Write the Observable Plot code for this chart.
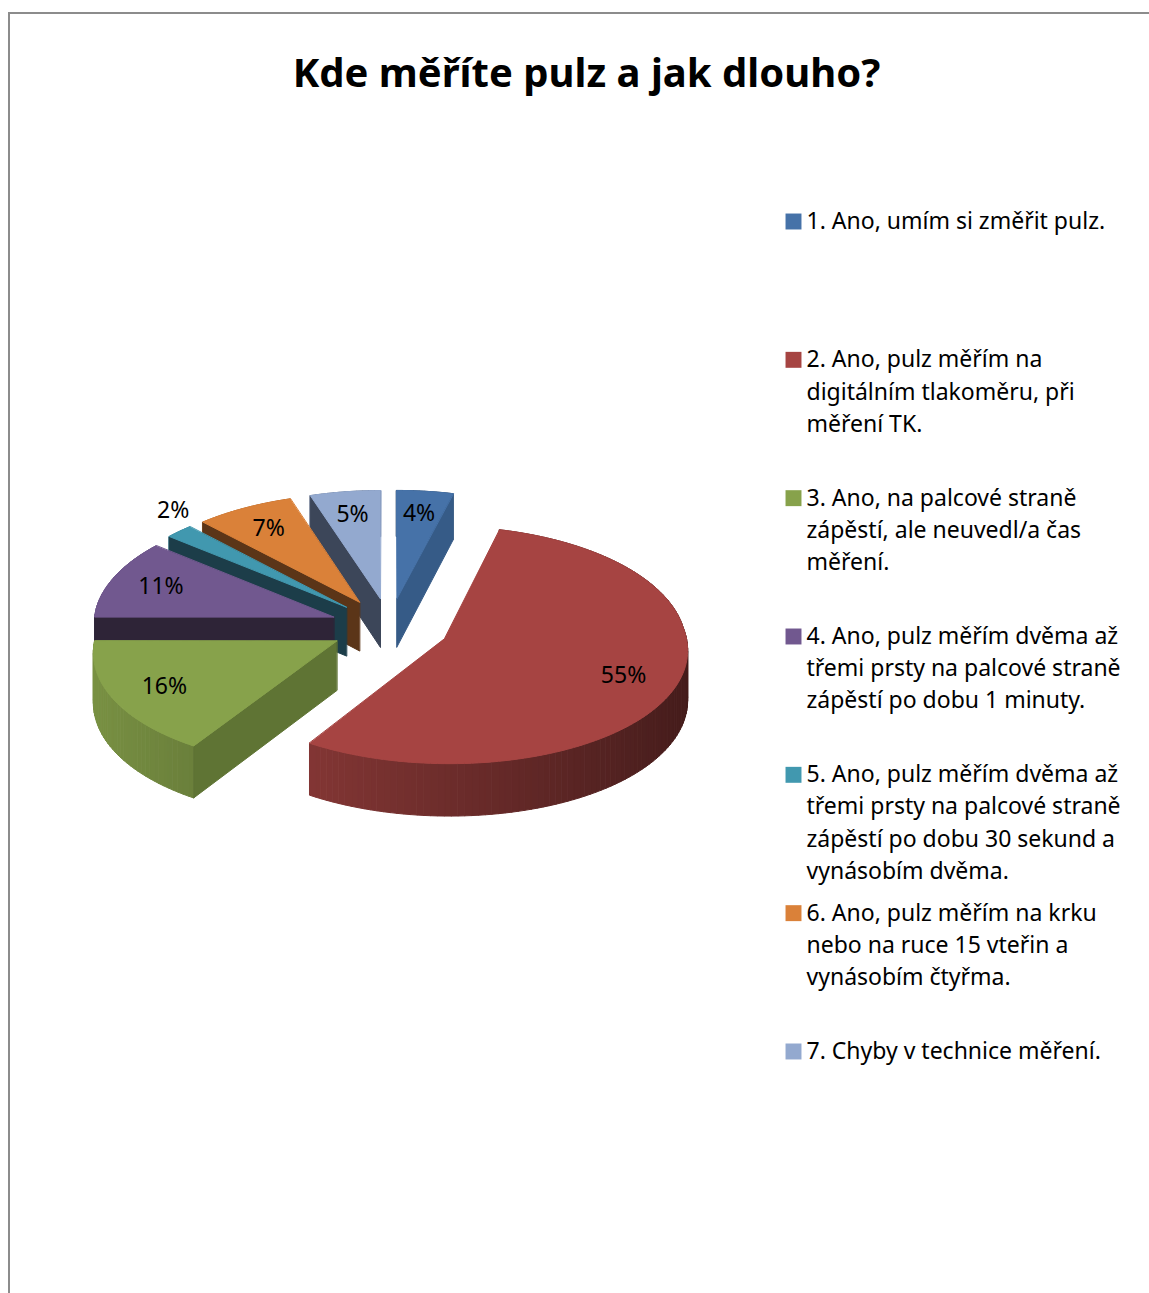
<!DOCTYPE html>
<html><head><meta charset="utf-8">
<script src="https://cdn.jsdelivr.net/npm/d3@7"></script>
<script src="https://cdn.jsdelivr.net/npm/@observablehq/plot@0.6"></script>
<style>
html,body{margin:0;padding:0;background:#fff;}
#page{position:relative;width:1149px;height:1293px;overflow:hidden;}
#frame{position:absolute;left:8px;top:12px;width:1200px;height:1300px;border-top:2px solid #8c8c8c;border-left:2px solid #8c8c8c;box-sizing:border-box;}
#title{position:absolute;left:24px;width:1125px;top:40px;height:64px;line-height:64px;text-align:center;font-family:"Noto Sans",sans-serif;font-weight:bold;font-size:40px;margin:0;color:#000;}
#chart{position:absolute;left:0;top:130px;}
</style></head>
<body>
<div id="page">
<div id="frame"></div>
<h1 id="title">Kde měříte pulz a jak dlouho?</h1>
<div id="chart"></div>
</div>
<script>
const categories = [
  "1. Ano, umím si změřit pulz.",
  "2. Ano, pulz měřím na\ndigitálním tlakoměru, při\nměření TK.",
  "3. Ano, na palcové straně\nzápěstí, ale neuvedl/a čas\nměření.",
  "4. Ano, pulz měřím dvěma až\ntřemi prsty na palcové straně\nzápěstí po dobu 1 minuty.",
  "5. Ano, pulz měřím dvěma až\ntřemi prsty na palcové straně\nzápěstí po dobu 30 sekund a\nvynásobím dvěma.",
  "6. Ano, pulz měřím na krku\nnebo na ruce 15 vteřin a\nvynásobím čtyřma.",
  "7. Chyby v technice měření."
];
const values = [4, 55, 16, 11, 2, 7, 5];
const topColors = ["#4672A8", "#A64442", "#87A24B", "#71588F", "#4198AF", "#DA8139", "#93A9CF"];
const sideColors = ["#365B87", "#6A2B2A", "#5F7434", "#2E2437", "#1C3D49", "#5B3518", "#3C4659"];

// 3D pie layout: tilted, exploded pie with a mild perspective
const R = 240, SA = 0.4875, CA = 0.873, D = 15.9, KX_FRONT = 0.08, KX_BACK = 0.045, CX = 389, CY = 496.4, H = 0.235, EXPLODE = 0.248;
function P(u, v, h) {
  const s = D / (D + v * CA);
  const sx = 1 / (1 + (v < 0 ? KX_FRONT : KX_BACK) * v);
  return [CX + R * u * sx, CY - R * (v * SA + h * CA) * s];
}
const arcs = d3.pie().sort(null).startAngle(0).endAngle(2 * Math.PI)(values);
const slices = arcs.map((a, i) => {
  const mid = (a.startAngle + a.endAngle) / 2;
  const ox = EXPLODE * Math.sin(mid), oy = EXPLODE * Math.cos(mid);
  const pt = (t, r, h) => P(ox + r * Math.sin(t), oy + r * Math.cos(t), h);
  return {i, a0: a.startAngle, a1: a.endAngle, mid, ox, oy, pt, value: values[i]};
});
function shade(c, f) { const r = d3.rgb(c); return d3.rgb(r.r * f, r.g * f, r.b * f).formatHex(); }
function poly(ring, fill) {
  return {type: "Feature", properties: {fill}, geometry: {type: "Polygon", coordinates: [[...ring, ring[0]]]}};
}
const features = [];
[...slices].sort((p, q) => q.oy - p.oy).forEach(s => {
  const n = Math.max(2, Math.ceil((s.a1 - s.a0) / (Math.PI / 120)));
  const step = (s.a1 - s.a0) / n;
  // outer wall strips with lighting gradient
  for (let k = 0; k < n; k++) {
    const t0 = s.a0 + k * step, t1 = t0 + step, tm = (t0 + t1) / 2;
    const f = 0.655 - 0.245 * Math.sin(tm);
    features.push(poly([s.pt(t0, 1, 0), s.pt(t1, 1, 0), s.pt(t1, 1, -H), s.pt(t0, 1, -H)], shade(topColors[s.i], f)));
  }
  // radial faces that face the viewer
  if (Math.sin(s.a0) < -0.01)
    features.push(poly([s.pt(s.a0, 0, 0), s.pt(s.a0, 1, 0), s.pt(s.a0, 1, -H), s.pt(s.a0, 0, -H)], sideColors[s.i]));
  if (Math.sin(s.a1) > 0.01)
    features.push(poly([s.pt(s.a1, 0, 0), s.pt(s.a1, 1, 0), s.pt(s.a1, 1, -H), s.pt(s.a1, 0, -H)], sideColors[s.i]));
  // top face
  const ring = [s.pt(0, 0, 0)];
  for (let k = 0; k <= n; k++) ring.push(s.pt(s.a0 + k * step, 1, 0));
  features.push(poly(ring, topColors[s.i]));
});

const insideLabels = slices.filter(s => s.value >= 3).map(s => {
  const [x, y] = s.pt(s.mid, 0.78, 0);
  return {x, y, text: `${s.value}%`};
});
const outsideLabels = slices.filter(s => s.value < 3).map(s => {
  const [x, y] = s.pt(s.mid, 1.0, 0);
  return {x, y, text: `${s.value}%`};
});

const LEG_X = 806, LEG_Y0 = 91, LEG_STEP = 138.33, LINE_H = 32.3;
const legendLines = categories.flatMap((c, i) => c.split("\n").map((t, j) => ({x: LEG_X, y: LEG_Y0 + i * LEG_STEP + j * LINE_H, text: t})));
const legendKeys = categories.map((c, i) => ({x: LEG_X - 13, y: LEG_Y0 + i * LEG_STEP, fill: topColors[i]}));

const chart = Plot.plot({
  width: 1149, height: 1163, margin: 0,
  projection: d3.geoIdentity(),
  style: {fontFamily: "'Noto Sans', sans-serif", background: "transparent"},
  marks: [
    Plot.geo(features, {fill: d => d.properties.fill, stroke: d => d.properties.fill, strokeWidth: 1}),
    Plot.text(insideLabels, {x: "x", y: "y", text: "text", fontSize: 23, fill: "#000"}),
    Plot.text(outsideLabels, {x: "x", y: "y", text: "text", fontSize: 23, fill: "#000", lineAnchor: "bottom", dx: -6, dy: -13}),
    Plot.dot(legendKeys, {x: "x", y: "y", fill: "fill", symbol: "square", r: 9}),
    Plot.text(legendLines, {x: "x", y: "y", text: "text", textAnchor: "start", fontSize: 23, fill: "#000"})
  ]
});
document.getElementById("chart").appendChild(chart);
</script>
</body></html>
